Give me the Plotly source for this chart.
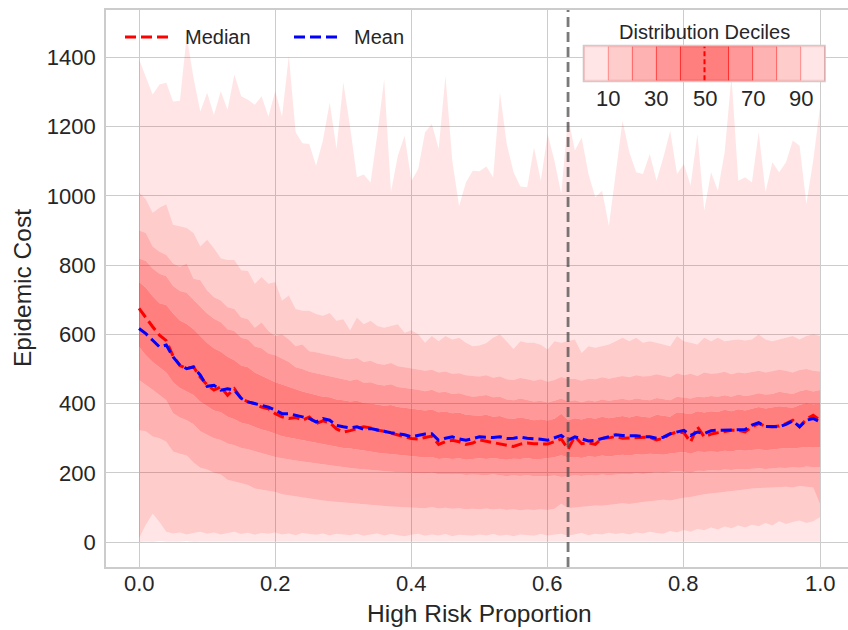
import plotly.graph_objects as go

# ---------------- data ----------------
x_vals = [i / 100 for i in range(101)]

p0 = [0, 2, 1, 3, 2, 1, 2, 3, 1, 2, 2,
      1, 3, 2, 1, 2, 3, 1, 2, 2, 1,
      2, 1, 3, 2, 1, 2, 2, 1, 3, 2,
      1, 2, 2, 1, 3, 2, 1, 2, 2, 1,
      2, 1, 3, 2, 1, 2, 2, 1, 3, 2,
      1, 2, 2, 1, 3, 2, 1, 2, 2, 1,
      2, 1, 3, 2, 1, 2, 2, 1, 3, 2,
      1, 2, 2, 1, 3, 2, 1, 2, 2, 1,
      2, 1, 3, 2, 1, 2, 2, 1, 3, 2,
      1, 2, 2, 1, 3, 2, 1, 2, 2, 1]

p10 = [10, 50, 82, 58, 30, 25, 28, 22, 26, 30, 24,
       28, 22, 25, 30, 23, 27, 21, 26, 24, 28,
       22, 25, 20, 26, 23, 21, 25, 19, 24, 22,
       20, 24, 18, 22, 25, 19, 23, 20, 17, 21,
       24, 18, 22, 19, 23, 17, 21, 20, 18, 22,
       19, 23, 18, 21, 17, 22, 20, 18, 23, 19,
       21, 24, 18, 22, 26, 20, 24, 22, 27, 23,
       26, 22, 28, 25, 30, 26, 24, 32, 28, 35,
       30, 38, 34, 42, 36, 45, 40, 48, 42, 50,
       46, 55, 48, 60, 52, 58, 62, 55, 60, 72]

p20 = [323, 320, 305, 300, 290, 262, 255, 250, 230, 215, 210,
       200, 195, 180, 175, 170, 165, 155, 152, 148, 145,
       138, 135, 130, 128, 125, 122, 120, 118, 116, 114,
       112, 110, 108, 107, 105, 104, 103, 102, 101, 102,
       100, 98, 101, 97, 99, 96, 98, 95, 96, 95,
       97, 94, 96, 93, 95, 92, 94, 93, 95, 93,
       96, 111, 98, 100, 102, 104, 106, 105, 108, 110,
       112, 110, 114, 116, 118, 120, 122, 120, 125, 128,
       130, 135, 138, 140, 142, 145, 148, 150, 152, 155,
       156, 158, 157, 159, 160, 158, 162, 160, 158, 110]

p30 = [468, 455, 440, 425, 410, 372, 360, 352, 340, 320, 310,
       300, 295, 285, 280, 272, 268, 262, 256, 250, 246,
       242, 240, 236, 233, 230, 228, 225, 222, 218, 215,
       214, 212, 210, 208, 206, 205, 204, 202, 201, 200,
       199, 198, 200, 196, 197, 195, 197, 194, 195, 195,
       193, 196, 192, 190, 193, 191, 194, 190, 191, 190,
       192, 188, 190, 193, 191, 194, 192, 195, 193, 195,
       197, 195, 199, 197, 200, 202, 200, 203, 205, 203,
       200, 206, 205, 208, 207, 210, 208, 211, 210, 212,
       213, 211, 214, 215, 214, 216, 215, 218, 216, 217]

p40 = [564, 540, 520, 505, 490, 462, 445, 435, 425, 405, 392,
       380, 375, 362, 355, 345, 340, 332, 325, 320, 312,
       306, 302, 298, 294, 290, 286, 282, 279, 276, 272,
       270, 268, 265, 262, 258, 256, 252, 250, 248, 246,
       246, 244, 246, 240, 242, 240, 242, 238, 240, 242,
       240, 243, 240, 238, 241, 240, 243, 239, 240, 242,
       245, 251, 244, 246, 243, 248, 246, 250, 247, 250,
       252, 250, 254, 252, 255, 254, 252, 256, 258, 260,
       255, 262, 260, 262, 260, 264, 262, 266, 264, 266,
       268, 265, 268, 270, 272, 270, 272, 275, 273, 275]

median = [675, 648, 622, 598, 582, 537, 510, 502, 506, 476, 454,
          439, 448, 424, 443, 415, 405, 400, 390, 385, 371,
          362, 357, 360, 352, 361, 342, 350, 345, 327, 318,
          322, 328, 333, 330, 323, 320, 315, 308, 304, 299,
          298, 303, 306, 282, 290, 294, 290, 282, 286, 295,
          291, 288, 284, 279, 276, 283, 286, 284, 283, 283,
          290, 298, 268, 305, 284, 287, 282, 300, 301, 305,
          300, 301, 302, 302, 303, 295, 300, 312, 318, 316,
          289, 333, 304, 312, 315, 320, 323, 323, 318, 333,
          342, 335, 333, 335, 342, 352, 333, 355, 366, 352]

p60 = [751, 735, 710, 690, 685, 660, 640, 630, 615, 595, 575,
       560, 550, 535, 525, 510, 505, 490, 480, 470, 462,
       455, 448, 440, 435, 430, 424, 420, 418, 412, 410,
       406, 408, 402, 400, 396, 394, 396, 390, 388, 385,
       382, 380, 383, 375, 377, 372, 374, 368, 366, 365,
       368, 362, 364, 358, 356, 360, 356, 352, 355, 351,
       356, 371, 352, 358, 354, 360, 356, 362, 358, 360,
       364, 360, 365, 362, 360, 368, 364, 362, 375, 373,
       370, 378, 374, 378, 376, 382, 378, 384, 380, 385,
       390, 386, 388, 392, 390, 388, 396, 402, 398, 400]

p70 = [819, 812, 790, 775, 768, 740, 725, 720, 700, 680, 660,
       645, 635, 615, 610, 590, 585, 565, 560, 545, 540,
       530, 520, 505, 500, 492, 488, 482, 478, 474, 470,
       466, 470, 460, 462, 455, 452, 456, 448, 446, 444,
       440, 436, 440, 432, 434, 428, 430, 424, 420, 422,
       425, 418, 420, 412, 410, 415, 410, 406, 408, 403,
       408, 415, 406, 410, 404, 410, 406, 412, 408, 410,
       414, 410, 415, 412, 410, 416, 412, 410, 420, 418,
       415, 420, 418, 422, 420, 424, 420, 426, 422, 425,
       430, 426, 428, 434, 430, 428, 436, 440, 435, 439]

p80 = [900, 893, 854, 839, 829, 805, 795, 805, 761, 756, 727,
       707, 698, 678, 673, 649, 644, 619, 634, 610, 595,
       600, 585, 566, 571, 551, 548, 545, 540, 536, 530,
       528, 532, 520, 524, 515, 512, 517, 508, 505, 502,
       500, 495, 498, 490, 493, 486, 488, 482, 480, 478,
       482, 475, 478, 470, 468, 474, 470, 466, 470, 463,
       468, 477, 470, 472, 466, 472, 470, 476, 472, 475,
       480, 476, 482, 478, 480, 485, 480, 476, 488, 482,
       486, 480, 490, 486, 488, 492, 485, 490, 488, 492,
       495, 490, 494, 498, 495, 490, 497, 500, 495, 493]

p90 = [1010, 990, 951, 966, 976, 917, 912, 907, 893, 854, 873,
       849, 820, 815, 815, 785, 783, 746, 766, 746, 751,
       698, 712, 673, 668, 668, 659, 654, 662, 639, 644,
       612, 649, 629, 639, 624, 619, 624, 629, 605, 612,
       600, 576, 595, 580, 595, 585, 590, 576, 566, 568,
       575, 590, 600, 580, 558, 580, 576, 576, 570, 556,
       580, 576, 580, 585, 546, 566, 561, 566, 571, 580,
       590, 580, 590, 576, 580, 576, 570, 566, 595, 580,
       576, 571, 590, 580, 590, 580, 583, 585, 582, 585,
       600, 585, 580, 585, 590, 595, 585, 595, 600, 595]

p100 = [1395, 1342, 1293, 1322, 1327, 1273, 1275, 1462, 1341, 1244, 1298,
        1234, 1302, 1249, 1351, 1288, 1278, 1263, 1288, 1229, 1302,
        1229, 1405, 1184, 1152, 1150, 1087, 1160, 1270, 1136, 1328,
        1198, 1054, 1062, 1039, 1179, 1337, 1011, 1116, 1174, 1044,
        1078, 1184, 1208, 1136, 1347, 1102, 970, 1039, 1073, 1071,
        1085, 1054, 1299, 1150, 1068, 1027, 1025, 1140, 1044, 1179,
        1102, 1006, 1227, 1131, 1169, 1063, 996, 1015, 914, 1063,
        1217, 1126, 1068, 1063, 1121, 1044, 1112, 1188, 1063, 1092,
        1030, 1179, 958, 1068, 1015, 1126, 1345, 1044, 1054, 1039,
        1184, 1011, 1097, 1068, 1097, 1160, 1145, 977, 1102, 1256]

mean = [617, 602, 583, 564, 569, 535, 511, 501, 506, 482, 450,
        453, 439, 443, 439, 415, 405, 400, 395, 390, 381,
        371, 371, 366, 361, 357, 347, 357, 352, 337, 333,
        330, 333, 326, 328, 324, 318, 316, 313, 310, 304,
        308, 312, 313, 294, 300, 304, 298, 294, 299, 304,
        303, 302, 304, 299, 300, 303, 300, 299, 297, 294,
        300, 308, 294, 304, 298, 292, 294, 300, 306, 310,
        308, 308, 307, 305, 304, 300, 303, 313, 318, 323,
        308, 318, 313, 322, 323, 323, 324, 323, 325, 338,
        345, 334, 333, 333, 340, 350, 333, 352, 357, 347]

threshold_x = 0.63
decile_ticks = [10, 30, 50, 70, 90]
band_edges = [0, 10, 20, 30, 40, 60, 70, 80, 90, 100]
band_alpha = [0.1, 0.2, 0.3, 0.4, 0.5, 0.4, 0.3, 0.2, 0.1]

# ---------------- figure ----------------
W, H = 848, 630
L, R, T, B = 106, 0, 10, 63
PW, PH = W - L - R, H - T - B
FONT = "Liberation Sans, Arial, sans-serif"
TXT = "#262626"

def px(xp):
    return (xp - L) / PW

def py(yp):
    return (H - B - yp) / PH

fig = go.Figure()

levels = [p0, p10, p20, p30, p40, p60, p70, p80, p90, p100]
for i, lv in enumerate(levels):
    if i == 0:
        fig.add_trace(go.Scatter(x=x_vals, y=lv, mode="lines", line=dict(width=0),
                                 showlegend=False, hoverinfo="skip"))
    else:
        a = band_alpha[i - 1]
        fig.add_trace(go.Scatter(x=x_vals, y=lv, mode="lines", line=dict(width=0),
                                 fill="tonexty", fillcolor=f"rgba(255,0,0,{a})",
                                 showlegend=False, hoverinfo="skip"))

fig.add_trace(go.Scatter(x=x_vals, y=median, mode="lines", name="Median",
                         line=dict(color="red", width=3, dash="11px,5px"),
                         showlegend=False))
fig.add_trace(go.Scatter(x=x_vals, y=mean, mode="lines", name="Mean",
                         line=dict(color="blue", width=3, dash="11px,5px"),
                         showlegend=False))

shapes = []
annotations = []

# threshold line
shapes.append(dict(type="line", xref="x", yref="paper", x0=threshold_x, x1=threshold_x,
                   y0=0, y1=1, line=dict(color="rgba(70,70,70,0.72)", width=2.8, dash="10px,5px"),
                   layer="above"))

# line legend
txt_font = dict(family=FONT, size=20, color=TXT)
for (x0, x1, tx, col, lab) in [(125, 168, 183, "red", "Median"), (294, 337, 352, "blue", "Mean")]:
    shapes.append(dict(type="line", xref="paper", yref="paper", x0=px(x0), x1=px(x1),
                       y0=py(37), y1=py(37), line=dict(color=col, width=3, dash="11px,5px"),
                       layer="above"))
    annotations.append(dict(xref="paper", yref="paper", x=px(tx), y=py(37), text=lab,
                            showarrow=False, xanchor="left", yanchor="middle", font=txt_font))

# decile legend
bx0, bx1, by0, by1 = 583.5, 825.0, 45.5, 81.5
shapes.append(dict(type="rect", xref="paper", yref="paper", x0=px(bx0), x1=px(bx1),
                   y0=py(by1), y1=py(by0), fillcolor="white",
                   line=dict(color="#cccccc", width=1.6), layer="above"))
s0, s1 = 584.3, 824.7
def sx(v):
    return s0 + (s1 - s0) * v / 100.0
for j in range(len(band_alpha)):
    a = band_alpha[j]
    shapes.append(dict(type="rect", xref="paper", yref="paper",
                       x0=px(sx(band_edges[j])), x1=px(sx(band_edges[j + 1])),
                       y0=py(by1 - 1.2), y1=py(by0 + 1.2),
                       fillcolor=f"rgba(255,0,0,{a})",
                       line=dict(color=f"rgba(255,0,0,{min(a + 0.1, 0.6)})", width=0.8),
                       layer="above"))
shapes.append(dict(type="line", xref="paper", yref="paper", x0=px(sx(50)), x1=px(sx(50)),
                   y0=py(by1 - 1.2), y1=py(by0 + 1.2),
                   line=dict(color="red", width=2, dash="5px,3px"), layer="above"))
for t in decile_ticks:
    annotations.append(dict(xref="paper", yref="paper", x=px(sx(t)), y=py(98.5), text=str(t),
                            showarrow=False, xanchor="center", yanchor="middle",
                            font=dict(family=FONT, size=22, color=TXT)))
annotations.append(dict(xref="paper", yref="paper", x=px(704.5), y=py(31.5),
                        text="Distribution Deciles", showarrow=False, xanchor="center",
                        yanchor="middle", font=txt_font))

# x tick labels (placed under the axis) and axis titles
xtick_vals = [0, 0.2, 0.4, 0.6, 0.8, 1.0]
xtick_text = ["0.0", "0.2", "0.4", "0.6", "0.8", "1.0"]
for v, t in zip(xtick_vals, xtick_text):
    annotations.append(dict(xref="x", yref="paper", x=v, y=py(583.5), text=t,
                            showarrow=False, xanchor="center", yanchor="middle",
                            font=dict(family=FONT, size=22, color=TXT)))
annotations.append(dict(xref="paper", yref="paper", x=px(479.5), y=py(613),
                        text="High Risk Proportion", showarrow=False, xanchor="center",
                        yanchor="middle", font=dict(family=FONT, size=24.5, color=TXT)))
annotations.append(dict(xref="paper", yref="paper", x=px(22), y=py(288),
                        text="Epidemic Cost", showarrow=False, xanchor="center",
                        yanchor="middle", textangle=-90,
                        font=dict(family=FONT, size=24.5, color=TXT)))

tickfont = dict(family=FONT, size=22, color=TXT)
fig.update_layout(
    width=W, height=H,
    margin=dict(l=L, r=R, t=T, b=B),
    paper_bgcolor="white", plot_bgcolor="white",
    shapes=shapes, annotations=annotations,
    xaxis=dict(range=[-0.0485, 1.0411], tickvals=xtick_vals, showticklabels=False,
               showgrid=True, gridcolor="#cccccc", gridwidth=1.2, zeroline=False,
               showline=True, linecolor="#cccccc", linewidth=1.6, mirror=True,
               ticks="", automargin=False),
    yaxis=dict(range=[-72, 1537], tickvals=[0, 200, 400, 600, 800, 1000, 1200, 1400],
               showgrid=True, gridcolor="#cccccc", gridwidth=1.2, zeroline=False,
               showline=True, linecolor="#cccccc", linewidth=1.6, mirror=False,
               ticks="", tickfont=tickfont, ticklabelstandoff=4, automargin=False),
    showlegend=False,
)

fig.write_html("out.html")
